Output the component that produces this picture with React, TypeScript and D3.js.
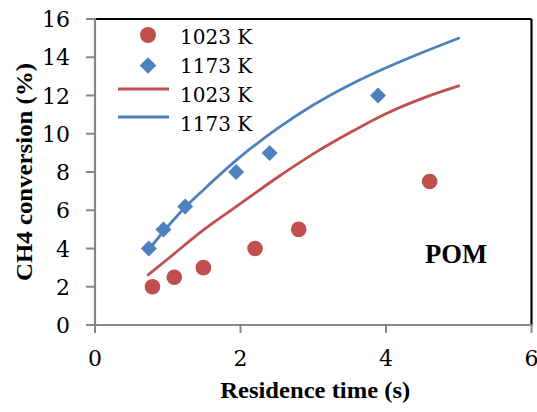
import React from "react";
import * as d3 from "d3";

const obsX1023 = [0.79, 1.09, 1.49, 2.2, 2.8, 4.6];
const obsY1023 = [2.0, 2.5, 3.0, 4.0, 5.0, 7.5];
const obsX1173 = [0.74, 0.94, 1.24, 1.94, 2.4, 3.89];
const obsY1173 = [4.0, 5.0, 6.2, 8.0, 9.0, 12.0];

const modelX1023 = [0.73, 1.0, 1.5, 2.0, 2.5, 3.0, 3.5, 4.0, 4.5, 5.0];
const modelY1023 = [2.62, 3.45, 5.0, 6.35, 7.7, 8.95, 10.05, 11.05, 11.85, 12.5];
const modelX1173 = [0.75, 1.0, 1.25, 1.5, 2.0, 2.5, 3.0, 3.5, 4.0, 4.5, 5.0];
const modelY1173 = [4.0, 5.15, 6.2, 7.1, 8.8, 10.25, 11.5, 12.55, 13.45, 14.25, 15.0];

const xTicks = [0, 2, 4, 6];
const yTicks = [0, 2, 4, 6, 8, 10, 12, 14, 16];
const legendLabels = ["1023 K", "1173 K", "1023 K", "1173 K"];

const RED = "#C0504D";
const BLUE = "#4F81BD";
const AXIS = "#868686";

export default function App() {
  const W = 537, H = 412;
  const left = 95, right = 531.5, top = 19, bottom = 325;
  const x = d3.scaleLinear().domain([0, 6]).range([left, right]);
  const y = d3.scaleLinear().domain([0, 16]).range([bottom, top]);
  const line = d3
    .line<[number, number]>()
    .x((d) => x(d[0]))
    .y((d) => y(d[1]))
    .curve(d3.curveMonotoneX);
  const red = line(modelX1023.map((v, i) => [v, modelY1023[i]] as [number, number])) || "";
  const blue = line(modelX1173.map((v, i) => [v, modelY1173[i]] as [number, number])) || "";
  const diamond = (cx: number, cy: number, r: number) =>
    `M${cx},${cy - r}L${cx + r},${cy}L${cx},${cy + r}L${cx - r},${cy}Z`;
  const serif = "'DejaVu Serif', serif";
  const bold = "'Liberation Serif', serif";
  const legendY = [36, 65, 94, 123];
  return (
    <svg
      width={W}
      height={H}
      style={{ position: "absolute", left: 0, top: 0, background: "#fff" }}
    >
      <rect x={0} y={0} width={W} height={H} fill="#fff" />
      {/* frame: top & right black */}
      <line x1={left} y1={top} x2={right} y2={top} stroke="#000" strokeWidth={2.2} />
      <line x1={right} y1={top} x2={right} y2={bottom} stroke="#000" strokeWidth={2.2} />
      {/* axes */}
      <line x1={left} y1={top - 1} x2={left} y2={bottom} stroke={AXIS} strokeWidth={2.2} />
      <line x1={left - 9} y1={bottom} x2={right + 1} y2={bottom} stroke={AXIS} strokeWidth={2.2} />
      {yTicks.map((t) => (
        <g key={"y" + t}>
          <line x1={left - 9} x2={left} y1={y(t)} y2={y(t)} stroke={AXIS} strokeWidth={2} />
          <text
            x={70}
            y={y(t) + 8}
            textAnchor="end"
            fontFamily={serif}
            fontSize={22}
            fill="#000"
          >
            {t}
          </text>
        </g>
      ))}
      {xTicks.map((t) => (
        <g key={"x" + t}>
          <line x1={x(t)} x2={x(t)} y1={bottom} y2={bottom + 8} stroke={AXIS} strokeWidth={2} />
          <text
            x={x(t)}
            y={366}
            textAnchor="middle"
            fontFamily={serif}
            fontSize={22}
            fill="#000"
          >
            {t}
          </text>
        </g>
      ))}
      <text
        x={(left + right) / 2 + 2}
        y={398}
        textAnchor="middle"
        fontFamily={bold}
        fontWeight="bold"
        fontSize={23}
        textLength={190}
        lengthAdjust="spacingAndGlyphs"
      >
        Residence time (s)
      </text>
      <text
        transform={`translate(32,172) rotate(-90)`}
        textAnchor="middle"
        fontFamily={bold}
        fontWeight="bold"
        fontSize={23}
        textLength={218}
        lengthAdjust="spacingAndGlyphs"
      >
        CH4 conversion (%)
      </text>
      <text
        x={456}
        y={263}
        textAnchor="middle"
        fontFamily={bold}
        fontWeight="bold"
        fontSize={28}
        textLength={62}
        lengthAdjust="spacingAndGlyphs"
      >
        POM
      </text>

      {/* model curves */}
      <path d={red} fill="none" stroke={RED} strokeWidth={2.8} strokeLinecap="round" />
      <path d={blue} fill="none" stroke={BLUE} strokeWidth={2.8} strokeLinecap="round" />

      {/* observations */}
      {obsX1023.map((v, i) => (
        <circle key={"c" + i} cx={x(v)} cy={y(obsY1023[i])} r={7.8} fill={RED} />
      ))}
      {obsX1173.map((v, i) => (
        <path key={"d" + i} d={diamond(x(v), y(obsY1173[i]), 8)} fill={BLUE} />
      ))}

      {/* legend */}
      <circle cx={148} cy={35} r={8} fill={RED} />
      <path d={diamond(148, 65.5, 8.3)} fill={BLUE} />
      <line x1={118} x2={169} y1={89} y2={89} stroke={RED} strokeWidth={2.8} />
      <line x1={118} x2={169} y1={117} y2={117} stroke={BLUE} strokeWidth={2.8} />
      {legendLabels.map((l, i) => (
        <text
          key={"l" + i}
          x={180}
          y={legendY[i] + 8}
          fontFamily={serif}
          fontSize={20}
          fill="#000"
        >
          {l}
        </text>
      ))}
    </svg>
  );
}
